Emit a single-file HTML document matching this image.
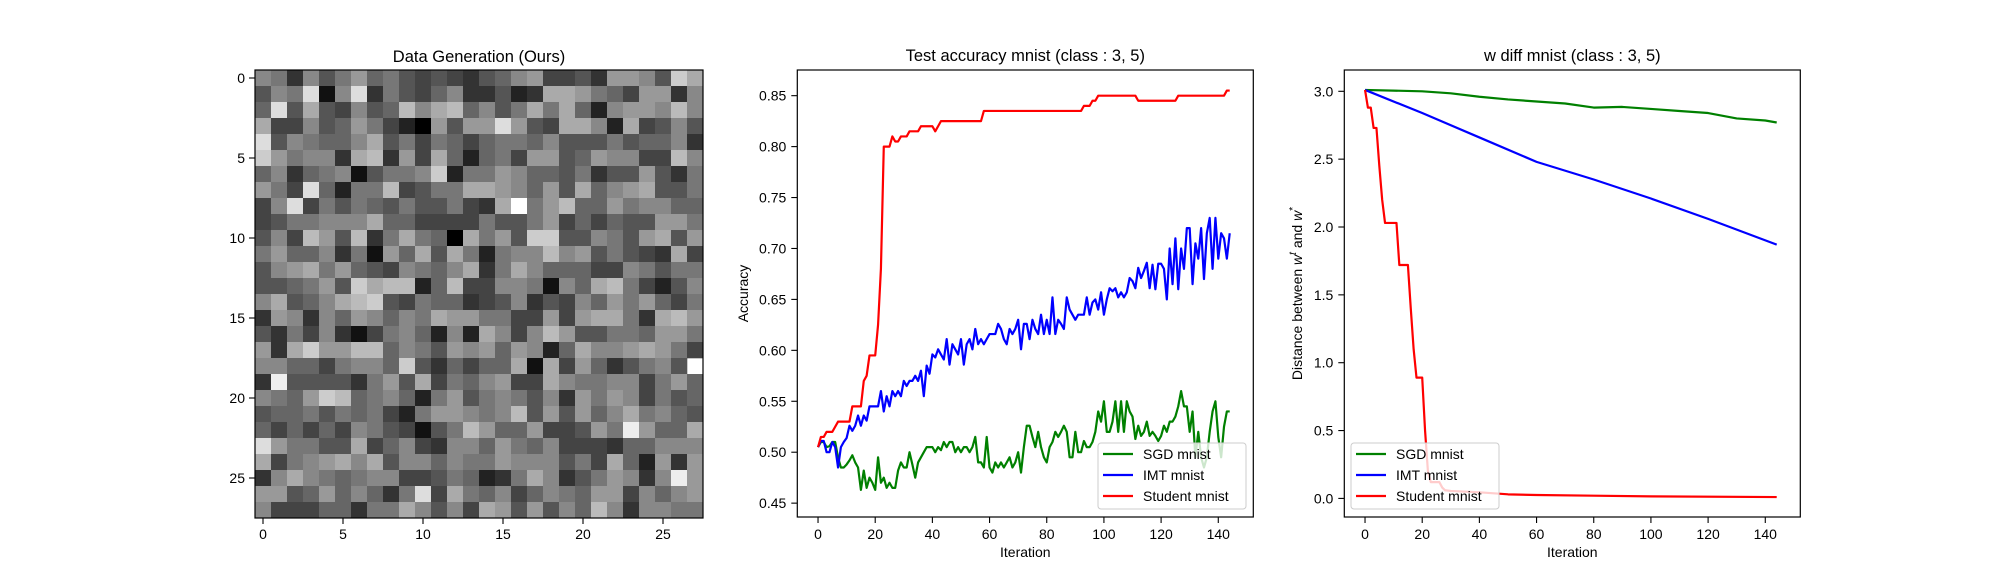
<!DOCTYPE html>
<html><head><meta charset="utf-8"><style>
html,body{margin:0;padding:0;background:#fff;}
svg{display:block;font-family:"Liberation Sans","DejaVu Sans",sans-serif;}
</style></head><body>
<svg id="fig" width="2000" height="580" viewBox="0 0 2000 580" xmlns="http://www.w3.org/2000/svg">
<rect width="2000" height="580" fill="#fff"/>
<g id="p1"></g>
<g id="p2"></g>
<g id="p3"></g>
</svg>
<script>
const heatRows = [
"8738579675454356894453998 5ca","587d18d3754683352 3aa9764993 8","6d5a5485 6b8ab6857a7a6289 98b8","a4485697420959 9d954aa82a458 5",
"d58766 8a574764677685557566 83","c97883ab394a626749956988 44b8","6836781577 8c27798665735595 37","97 4d6277b4577aa986 95a68 9a557",
"48d4757657557 43af79b66978866","4577888a6644447557946465599 7","584b95b37a760a795cc558759a59","79668371 96a5a727 88b895 754 3a4",
"589a796548768a37a866644 87577","5567 95cabb26b448871 86ab742 58","8a568abc5476634583548697964 7","39838698687a99774494 9aa73ab9",
"537483147862 82a8 48b955776997","93ac99bb68759896982 6a889a974","88 66478 86c5364 66a1a4963 5785","3e5555379 5a476894 4a877884796",
"876 9cb67862795787 58397 984756","5667576742799878b59 596 8a7865","646464875415 7b96694459 7e966a","d9775 5a468438869768444366888",
"a4789a8a588687798885 74a6293 9","38a876788445762 37a83579838e9","99569686 37d4a76846876994 8689","84446637 7a85 84a95958 6b838877"
];
const accIter = Array.from({length:145},(_, i)=>i);
const sgdAcc = [.505,.51,.51,.505,.506,.51,.51,.495,.485,.485,.488,.492,.497,.49,.485,.463,.482,.465,.475,.47,.463,.495,.47,.475,.465,.47,.465,.465,.482,.49,.485,.485,.50,.488,.475,.49,.495,.50,.505,.505,.505,.50,.505,.502,.51,.505,.51,.51,.50,.505,.50,.505,.505,.50,.505,.515,.49,.49,.485,.515,.485,.48,.49,.485,.49,.485,.49,.495,.485,.49,.50,.48,.505,.526,.526,.515,.505,.52,.505,.495,.49,.505,.51,.52,.515,.52,.526,.52,.495,.495,.52,.50,.50,.511,.505,.505,.51,.52,.54,.53,.55,.52,.52,.53,.55,.52,.55,.52,.55,.54,.535,.513,.526,.516,.52,.53,.516,.52,.516,.511,.516,.526,.52,.53,.53,.535,.545,.56,.545,.545,.52,.54,.495,.52,.495,.485,.495,.52,.54,.55,.515,.495,.525,.54,.54];
const imtAcc = [.505,.511,.511,.50,.50,.51,.505,.485,.505,.51,.514,.526,.521,.526,.536,.526,.536,.531,.545,.545,.545,.545,.56,.54,.555,.545,.56,.555,.56,.555,.57,.565,.57,.57,.575,.57,.58,.555,.585,.577,.596,.593,.601,.596,.591,.611,.586,.606,.601,.596,.611,.586,.606,.611,.601,.621,.606,.611,.606,.611,.616,.616,.616,.626,.621,.611,.606,.621,.616,.621,.63,.601,.626,.626,.611,.63,.621,.616,.635,.616,.63,.616,.652,.616,.63,.626,.621,.652,.64,.635,.63,.635,.635,.635,.652,.635,.647,.65,.64,.657,.635,.65,.661,.658,.661,.652,.657,.652,.657,.671,.668,.661,.681,.671,.678,.686,.661,.684,.66,.685,.685,.68,.65,.70,.665,.71,.66,.70,.68,.72,.72,.665,.705,.69,.72,.67,.715,.73,.68,.73,.69,.715,.71,.69,.715];
const studentAcc = [.505,.515,.515,.52,.52,.52,.525,.53,.53,.53,.53,.53,.545,.545,.545,.545,.57,.575,.595,.595,.595,.625,.68,.80,.80,.80,.81,.805,.805,.81,.81,.81,.815,.815,.815,.815,.82,.82,.82,.82,.82,.815,.82,
.825,.825,.825,.825,.825,.825,.825,.825,.825,.825,.825,.825,.825,.825,.825,
.835,.835,.835,.835,.835,.835,.835,.835,.835,.835,.835,.835,.835,.835,.835,.835,.835,.835,.835,.835,.835,.835,.835,.835,.835,.835,.835,.835,.835,.835,.835,.835,.835,.835,.835,
.84,.84,.84,.845,.845,
.85,.85,.85,.85,.85,.85,.85,.85,.85,.85,.85,.85,.85,.85,
.845,.845,.845,.845,.845,.845,.845,.845,.845,.845,.845,.845,.845,.845,
.85,.85,.85,.85,.85,.85,.85,.85,.85,.85,.85,.85,.85,.85,.85,.85,.85,.855,.855];
const accTicks = [0.45,0.50,0.55,0.60,0.65,0.70,0.75,0.80,0.85];
const iterTicks = [0,20,40,60,80,100,120,140];
const sgdDistIter = [0,20,30,40,50,60,70,80,90,100,110,120,130,140,144];
const sgdDist = [3.01,3.0,2.985,2.96,2.94,2.925,2.91,2.88,2.885,2.87,2.855,2.84,2.80,2.785,2.77];
const imtDistIter = [0,20,40,60,80,100,120,144];
const imtDist = [3.01,2.84,2.66,2.48,2.35,2.21,2.06,1.87];
const stuDistIter = [0,1,2,3,4,5,6,7,8,9,10,11,12,13,14,15,16,17,18,19,20,21,22,23,24,25,26,27,28,30,40,50,60,80,100,144];
const stuDist = [3.01,2.88,2.88,2.73,2.73,2.45,2.2,2.03,2.03,2.03,2.03,2.03,1.72,1.72,1.72,1.72,1.4,1.1,0.89,0.89,0.89,0.5,0.2,0.12,0.12,0.12,0.12,0.08,0.06,0.055,0.045,0.03,0.025,0.02,0.015,0.01];
const distTicks = [0.0,0.5,1.0,1.5,2.0,2.5,3.0];
const heatTicks = [0,5,10,15,20,25];

const NS="http://www.w3.org/2000/svg";
function mk(parent, tag, attrs, text){
  const e=document.createElementNS(NS,tag);
  for(const k in attrs) e.setAttribute(k,attrs[k]);
  if(text!==undefined) e.textContent=text;
  parent.appendChild(e); return e;
}
const TOP=70, BOT=517;

// ---------- Panel 1: heatmap ----------
const p1=document.getElementById('p1');
const HX=255, CS=16;
heatRows.forEach((row,r)=>{
  const vals=row.replace(/ /g,'').split('');
  vals.forEach((ch,c)=>{
    const g=parseInt(ch,16)*17;
    const cell=mk(p1,'rect',{x:HX+c*CS,y:TOP+r*CS,width:CS+0.3,height:CS+0.3,fill:`rgb(${g},${g},${g})`});
    
    
  });
});
const f1=mk(p1,'rect',{x:HX,y:TOP,width:448,height:448,fill:'none',stroke:'#000','stroke-width':1.2});


heatTicks.forEach(t=>{
  const px=HX+(t+0.5)*CS, py=TOP+(t+0.5)*CS;
  mk(p1,'line',{x1:px,y1:TOP+448,x2:px,y2:TOP+454,stroke:'#000','stroke-width':1.1});
  const xl=mk(p1,'text',{x:px,y:539,'font-size':14,'text-anchor':'middle'},String(t));
  
  
  mk(p1,'line',{x1:HX-6,y1:py,x2:HX,y2:py,stroke:'#000','stroke-width':1.1});
  const yl=mk(p1,'text',{x:HX-10,y:py+5,'font-size':14,'text-anchor':'end'},String(t));
  
  
});
const t1=mk(p1,'text',{x:HX+224,y:62,'font-size':16.5,'text-anchor':'middle'},'Data Generation (Ours)');



// ---------- line panel helper ----------
function linePanel(g, L, ymin, ymax, ticks, fmt){
  const W=456;
  const xs=i=>L+(i+7.25)*W/159.5;
  const ys=v=>TOP+(ymax-v)/(ymax-ymin)*(BOT-TOP);
  const fr=mk(g,'rect',{x:L,y:TOP,width:W,height:BOT-TOP,fill:'none',stroke:'#000','stroke-width':1.2});
  
  
  iterTicks.forEach(t=>{
    const px=xs(t);
    mk(g,'line',{x1:px,y1:BOT,x2:px,y2:BOT+6,stroke:'#000','stroke-width':1.1});
    const l=mk(g,'text',{x:px,y:539,'font-size':14,'text-anchor':'middle'},String(t));
    
    
  });
  ticks.forEach(t=>{
    const py=ys(t);
    mk(g,'line',{x1:L-6,y1:py,x2:L,y2:py,stroke:'#000','stroke-width':1.1});
    const l=mk(g,'text',{x:L-11,y:py+5,'font-size':14,'text-anchor':'end'},t.toFixed(fmt));
    
    
  });
  const xl=mk(g,'text',{x:L+W/2,y:557,'font-size':14,'text-anchor':'middle'},'Iteration');
  
  
  return {xs,ys,W};
}
function series(g, ax, xsArr, ysArr, color, name){
  const d=xsArr.map((x,k)=>(k?'L':'M')+ax.xs(x).toFixed(2)+','+ax.ys(ysArr[k]).toFixed(2)).join('');
  const p=mk(g,'path',{d,fill:'none',stroke:color,'stroke-width':2.2,'stroke-linejoin':'round'});
  
  
}
function legend(g, x, y){
  const box=mk(g,'rect',{x,y,width:148,height:66,rx:3,fill:'#fff','fill-opacity':0.8,stroke:'#ccc','stroke-width':1});
  
  
  [['SGD mnist','green'],['IMT mnist','blue'],['Student mnist','red']].forEach((e,k)=>{
    const cy=y+11+k*21;
    mk(g,'line',{x1:x+5,y1:cy,x2:x+35,y2:cy,stroke:e[1],'stroke-width':2.2});
    const t=mk(g,'text',{x:x+45,y:cy+5,'font-size':14},e[0]);
    
    
  });
}

// ---------- Panel 2 ----------
const p2=document.getElementById('p2');
const ax2=linePanel(p2,797.3,0.4364,0.8752,accTicks,2);
series(p2,ax2,accIter,sgdAcc,'green','sgd-accuracy-line');
series(p2,ax2,accIter,imtAcc,'blue','imt-accuracy-line');
series(p2,ax2,accIter,studentAcc,'red','student-accuracy-line');
legend(p2,1098,443);
const t2=mk(p2,'text',{x:797.3+228,y:61,'font-size':16.5,'text-anchor':'middle'},'Test accuracy mnist (class : 3, 5)');


const yl2=mk(p2,'text',{x:0,y:0,'font-size':14,'text-anchor':'middle',transform:'translate(748,293.5) rotate(-90)'},'Accuracy');



// ---------- Panel 3 ----------
const p3=document.getElementById('p3');
const ax3=linePanel(p3,1344.3,-0.137,3.157,distTicks,1);
series(p3,ax3,sgdDistIter,sgdDist,'green','sgd-distance-line');
series(p3,ax3,imtDistIter,imtDist,'blue','imt-distance-line');
series(p3,ax3,stuDistIter,stuDist,'red','student-distance-line');
legend(p3,1351,443);
const t3=mk(p3,'text',{x:1344.3+228,y:61,'font-size':16.5,'text-anchor':'middle'},'w diff mnist (class : 3, 5)');


const yl3=mk(p3,'text',{x:0,y:0,'font-size':14,'text-anchor':'middle',transform:'translate(1302,293.5) rotate(-90)'});


yl3.innerHTML='Distance between <tspan font-style="italic">w</tspan><tspan font-size="10" dy="-6" font-style="italic">t</tspan><tspan dy="6"> and </tspan><tspan font-style="italic">w</tspan><tspan font-size="10" dy="-6">*</tspan>';
</script>
</body></html>
